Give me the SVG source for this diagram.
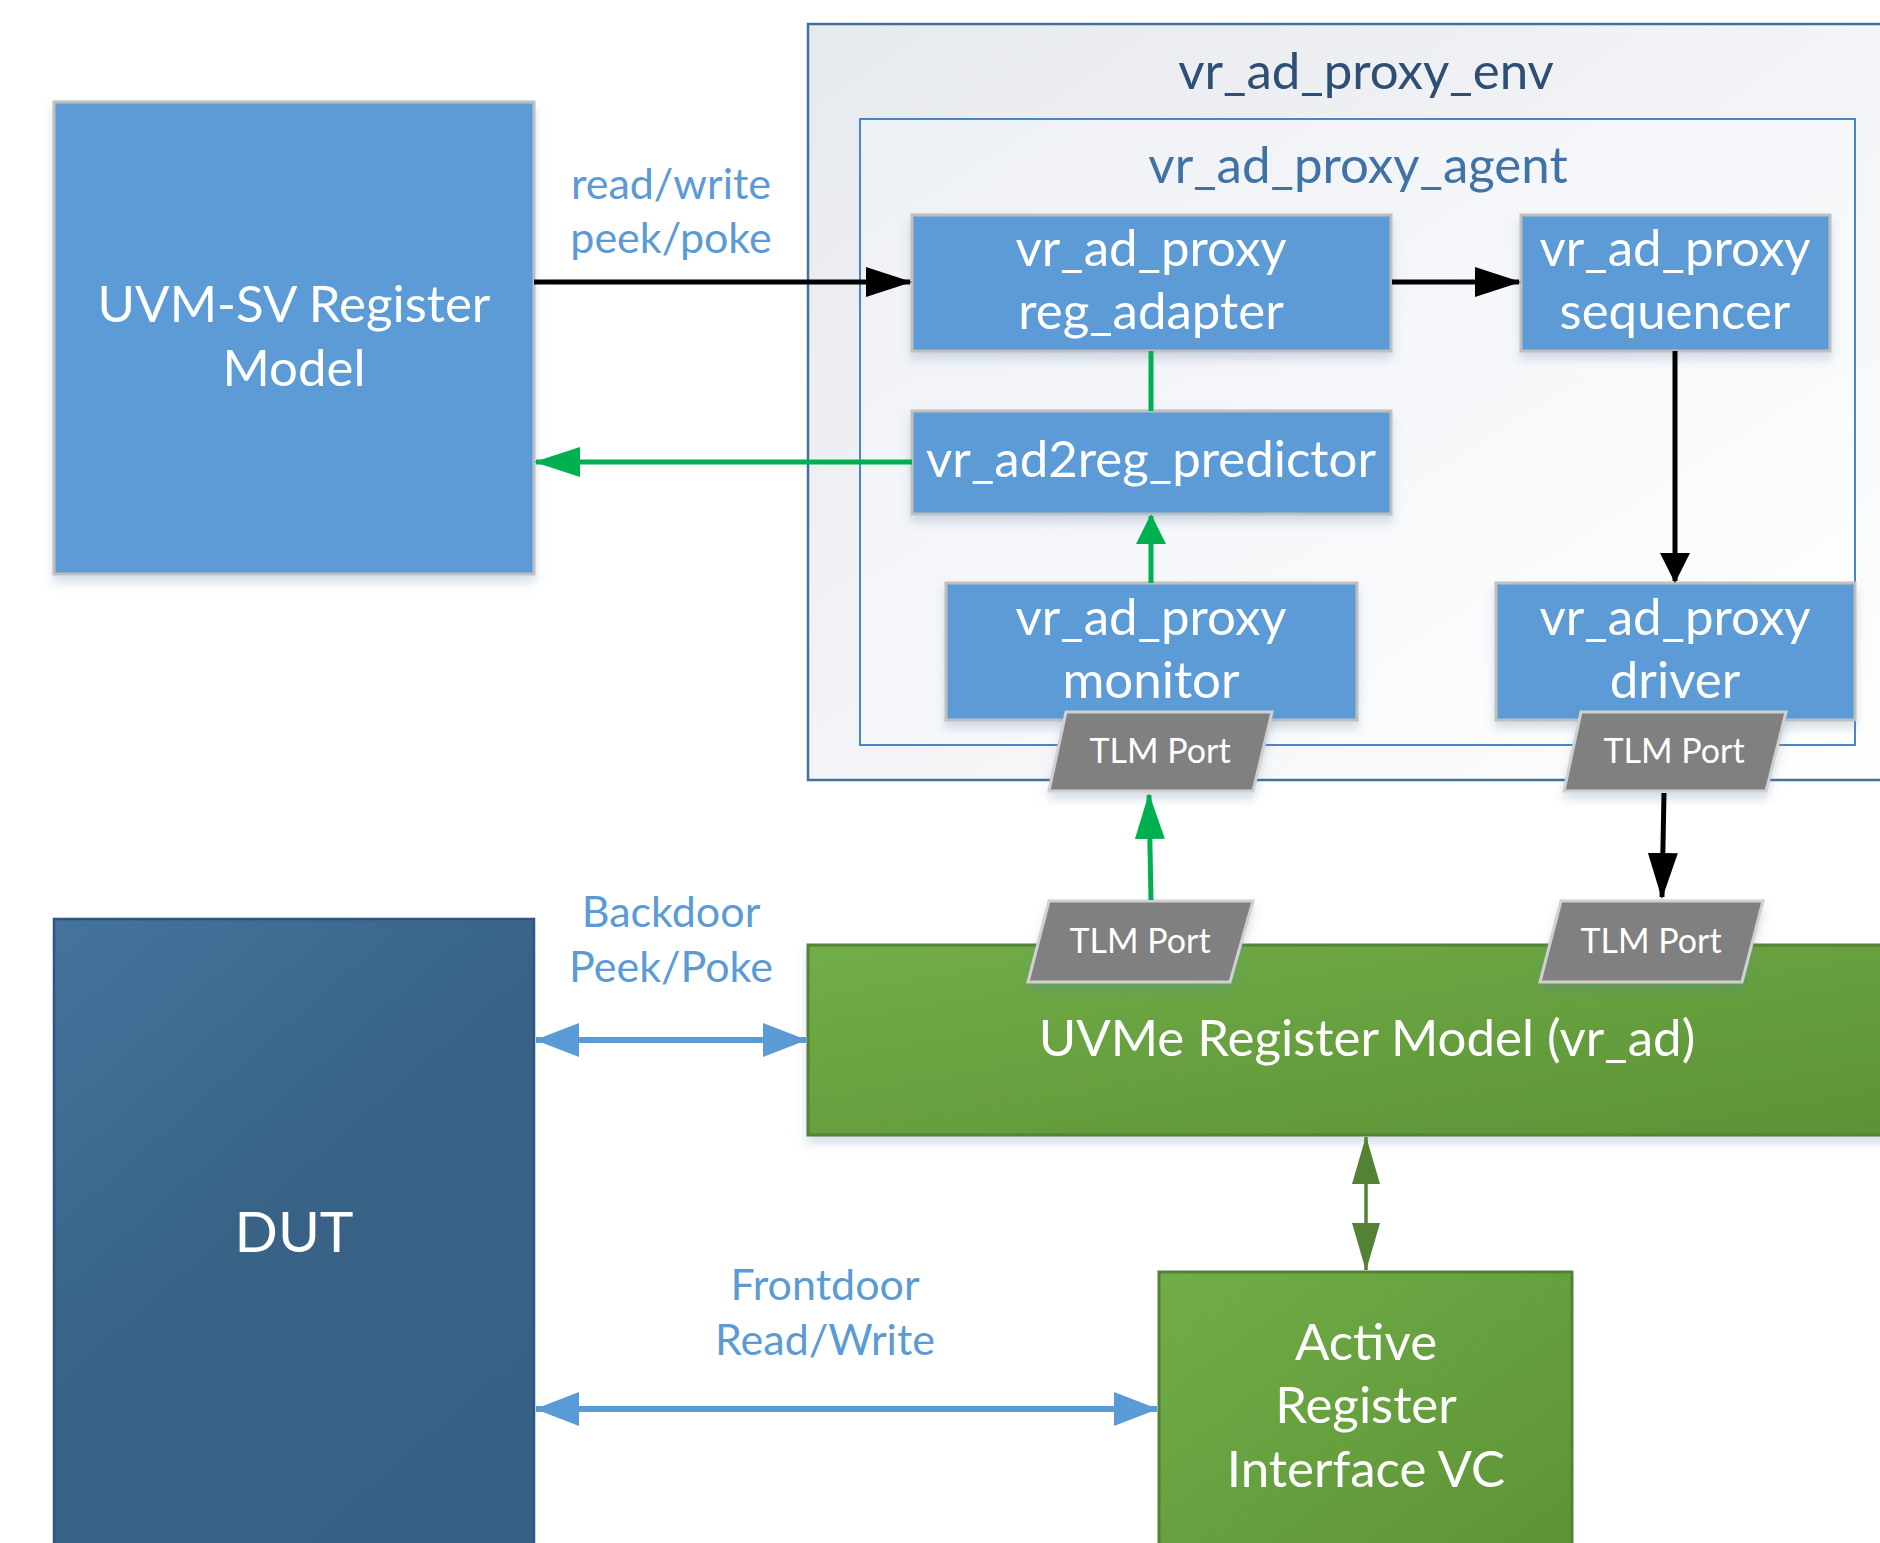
<svg xmlns="http://www.w3.org/2000/svg" width="1880" height="1543" viewBox="0 0 1880 1543">
<style>
text{font-family:Lato,"Open Sans","Liberation Sans",sans-serif;text-anchor:middle}
.node{fill:#5B9BD5;stroke:#BFBFBF;stroke-width:3;filter:url(#sh)}
.nt{fill:#FFFFFF;font-size:51px}
.lbl{fill:#5B9BD5;font-size:43px}
.port{fill:#808080;stroke:#D0D0D0;stroke-width:3;filter:url(#sh)}
.pt{fill:#FFFFFF;font-size:34px}
.blk{stroke:#000;stroke-width:5;fill:none}
.grn{stroke:#00B050;stroke-width:5;fill:none}
.blu{stroke:#5B9BD5;stroke-width:6;fill:none}
.dg{stroke:#548235;stroke-width:3.5;fill:none}
</style>
<defs>
<linearGradient id="gEnv" x1="0" y1="0" x2="1" y2="1"><stop offset="0" stop-color="#E6E9EE"/><stop offset="1" stop-color="#FFFFFF"/></linearGradient>
<linearGradient id="gAg" x1="0" y1="0" x2="1" y2="1"><stop offset="0" stop-color="#EDF0F5"/><stop offset="1" stop-color="#FFFFFF"/></linearGradient>
<linearGradient id="gGrn" x1="0" y1="0" x2="1" y2="1"><stop offset="0" stop-color="#71AD47"/><stop offset="1" stop-color="#5C9236"/></linearGradient>
<linearGradient id="gDut" x1="0" y1="0" x2="0.6" y2="1"><stop offset="0" stop-color="#44739D"/><stop offset="0.5" stop-color="#386386"/><stop offset="1" stop-color="#366084"/></linearGradient>
<filter id="sh" x="-10%" y="-10%" width="120%" height="130%"><feDropShadow dx="0" dy="7" stdDeviation="5" flood-color="#5B7FA8" flood-opacity="0.25"/></filter>
<marker id="aBk" markerUnits="userSpaceOnUse" markerWidth="46" markerHeight="30" viewBox="0 0 46 30" refX="44" refY="15" orient="auto"><path d="M0,0 L46,15 L0,30 z" fill="#000"/></marker>
<marker id="aBkS" markerUnits="userSpaceOnUse" markerWidth="30" markerHeight="30" viewBox="0 0 30 30" refX="28" refY="15" orient="auto"><path d="M0,0 L30,15 L0,30 z" fill="#000"/></marker>
<marker id="aGn" markerUnits="userSpaceOnUse" markerWidth="46" markerHeight="30" viewBox="0 0 46 30" refX="44" refY="15" orient="auto"><path d="M0,0 L46,15 L0,30 z" fill="#00B050"/></marker>
<marker id="aGnS" markerUnits="userSpaceOnUse" markerWidth="30" markerHeight="30" viewBox="0 0 30 30" refX="28" refY="15" orient="auto"><path d="M0,0 L30,15 L0,30 z" fill="#00B050"/></marker>
<marker id="aBl" markerUnits="userSpaceOnUse" markerWidth="44" markerHeight="34" viewBox="0 0 44 34" refX="43" refY="17" orient="auto-start-reverse"><path d="M0,0 L44,17 L0,34 z" fill="#5B9BD5"/></marker>
<marker id="aDg" markerUnits="userSpaceOnUse" markerWidth="48" markerHeight="28" viewBox="0 0 48 28" refX="47" refY="14" orient="auto-start-reverse"><path d="M0,0 L48,14 L0,28 z" fill="#548235"/></marker>
</defs>
<rect width="1880" height="1543" fill="#FFFFFF"/>

<g id="env">
<rect x="808" y="24" width="1100" height="756" fill="url(#gEnv)" stroke="#41719C" stroke-width="2.5"/>
<text x="1366" y="89" fill="#2E4E74" font-size="51">vr_ad_proxy_env</text>
</g>
<g id="agent">
<rect x="860" y="119" width="995" height="626" fill="url(#gAg)" stroke="#4A86C4" stroke-width="2"/>
<text x="1358" y="183" fill="#3F72A5" font-size="51">vr_ad_proxy_agent</text>
</g>

<g id="uvmsv">
<rect class="node" x="54" y="102" width="480" height="472"/>
<text class="nt" x="294" y="322">UVM-SV Register</text>
<text class="nt" x="294" y="386">Model</text>
</g>

<g id="dut">
<rect x="54" y="919" width="480" height="700" fill="url(#gDut)" stroke="#2F5580" stroke-width="2.5"/>
<text x="294" y="1252" fill="#FFFFFF" font-size="57">DUT</text>
</g>

<g id="uvme">
<rect x="808" y="945" width="1100" height="190" fill="url(#gGrn)" stroke="#548235" stroke-width="3" filter="url(#sh)"/>
<text class="nt" x="1367" y="1056">UVMe Register Model (vr_ad)</text>
</g>

<g id="active">
<rect x="1159" y="1272" width="413" height="300" fill="url(#gGrn)" stroke="#548235" stroke-width="3"/>
<text class="nt" x="1366" y="1360">Active</text>
<text class="nt" x="1366" y="1423">Register</text>
<text class="nt" x="1366" y="1487">Interface VC</text>
</g>

<g id="adapter">
<rect class="node" x="912" y="215" width="479" height="136"/>
<text class="nt" x="1151" y="266">vr_ad_proxy</text>
<text class="nt" x="1151" y="329">reg_adapter</text>
</g>
<g id="sequencer">
<rect class="node" x="1521" y="215" width="309" height="136"/>
<text class="nt" x="1675" y="266">vr_ad_proxy</text>
<text class="nt" x="1675" y="329">sequencer</text>
</g>
<g id="predictor">
<rect class="node" x="912" y="411" width="479" height="103"/>
<text class="nt" x="1151" y="477">vr_ad2reg_predictor</text>
</g>
<g id="monitor">
<rect class="node" x="946" y="583" width="411" height="137"/>
<text class="nt" x="1151" y="635">vr_ad_proxy</text>
<text class="nt" x="1151" y="698">monitor</text>
</g>
<g id="driver">
<rect class="node" x="1496" y="583" width="359" height="137"/>
<text class="nt" x="1675" y="635">vr_ad_proxy</text>
<text class="nt" x="1675" y="698">driver</text>
</g>

<g id="port_mon_up">
<polygon class="port" points="1066,712 1272,712 1253,791 1049,791"/>
<text class="pt" x="1160" y="763">TLM Port</text>
</g>
<g id="port_drv_up">
<polygon class="port" points="1581,712 1786,712 1766,791 1564,791"/>
<text class="pt" x="1674" y="763">TLM Port</text>
</g>
<g id="port_mon_low">
<polygon class="port" points="1049,901 1253,901 1230,982 1028,982"/>
<text class="pt" x="1140" y="953">TLM Port</text>
</g>
<g id="port_drv_low">
<polygon class="port" points="1561,901 1763,901 1742,982 1540,982"/>
<text class="pt" x="1651" y="953">TLM Port</text>
</g>

<g id="labels">
<text class="lbl" x="671" y="199">read/write</text>
<text class="lbl" x="671" y="253">peek/poke</text>
<text class="lbl" x="671" y="927">Backdoor</text>
<text class="lbl" x="671" y="982">Peek/Poke</text>
<text class="lbl" x="825" y="1300">Frontdoor</text>
<text class="lbl" x="825" y="1355">Read/Write</text>
</g>

<g id="connectors">
<path class="blk" d="M534,282 H910" marker-end="url(#aBk)"/>
<path class="blk" d="M1392,282 H1519" marker-end="url(#aBk)"/>
<path class="grn" d="M1151,351 V411"/>
<path class="grn" d="M1151,583 V516" marker-end="url(#aGnS)"/>
<path class="blk" d="M1675,351 V581" marker-end="url(#aBkS)"/>
<path class="grn" d="M912,462 H536" marker-end="url(#aGn)"/>
<path class="grn" d="M1151,900 L1149,795" marker-end="url(#aGn)"/>
<path class="blk" d="M1664,793 L1662,897" marker-end="url(#aBk)"/>
<path class="blu" d="M536,1040 H806" marker-start="url(#aBl)" marker-end="url(#aBl)"/>
<path class="blu" d="M536,1409 H1157" marker-start="url(#aBl)" marker-end="url(#aBl)"/>
<path class="dg" d="M1366,1137 V1270" marker-start="url(#aDg)" marker-end="url(#aDg)"/>
</g>
</svg>
